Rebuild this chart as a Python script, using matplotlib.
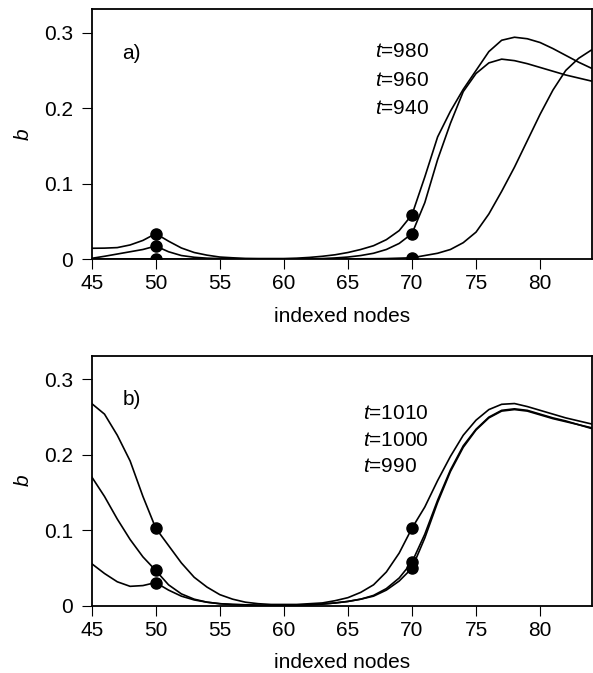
import numpy as np
import matplotlib
matplotlib.use("Agg")
import matplotlib.pyplot as plt

plt.rcParams['font.family'] = ['Liberation Sans', 'DejaVu Sans']
plt.rcParams['mathtext.fontset'] = 'custom'
plt.rcParams['mathtext.it'] = 'Liberation Sans:italic'
plt.rcParams['mathtext.rm'] = 'Liberation Sans'

# indexed nodes 45..84
nodes = np.arange(45, 85)

# panel a)
a_980 = [0.0146, 0.0148, 0.0155, 0.019, 0.025, 0.034, 0.024, 0.015, 0.009, 0.0055,
         0.003, 0.002, 0.0012, 0.001, 0.001, 0.001, 0.0015, 0.0025, 0.004, 0.006,
         0.009, 0.013, 0.018, 0.026, 0.038, 0.059, 0.109, 0.162, 0.196, 0.225,
         0.25, 0.275, 0.29, 0.294, 0.292, 0.287, 0.279, 0.27, 0.261, 0.253]
a_960 = [0.0013, 0.004, 0.007, 0.010, 0.013, 0.0176, 0.010, 0.005, 0.0027, 0.0015,
         0.001, 0.0006, 0.0004, 0.0003, 0.0003, 0.0003, 0.0004, 0.0006, 0.001, 0.0018,
         0.003, 0.005, 0.008, 0.013, 0.021, 0.034, 0.075, 0.132, 0.18, 0.222,
         0.246, 0.26, 0.265, 0.263, 0.259, 0.254, 0.249, 0.244, 0.24, 0.236]
a_940 = [0.0005, 0.0005, 0.0005, 0.0005, 0.0005, 0.0005, 0.0004, 0.0004, 0.0003, 0.0003,
         0.0003, 0.0003, 0.0003, 0.0003, 0.0003, 0.0003, 0.0003, 0.0004, 0.0004, 0.0005,
         0.0006, 0.0007, 0.0008, 0.001, 0.0015, 0.002, 0.005, 0.008, 0.013, 0.022,
         0.036, 0.06, 0.09, 0.122, 0.157, 0.192, 0.224, 0.25, 0.266, 0.277]

# panel b)
b_1010 = [0.268, 0.254, 0.226, 0.192, 0.145, 0.103, 0.08, 0.057, 0.038, 0.025,
          0.015, 0.009, 0.005, 0.003, 0.002, 0.002, 0.002, 0.003, 0.004, 0.007,
          0.011, 0.018, 0.028, 0.045, 0.07, 0.103, 0.131, 0.166, 0.198, 0.226,
          0.246, 0.26, 0.267, 0.268, 0.264, 0.259, 0.254, 0.249, 0.245, 0.241]
b_1000 = [0.171, 0.145, 0.115, 0.088, 0.065, 0.047, 0.028, 0.016, 0.009, 0.005,
          0.003, 0.002, 0.0015, 0.001, 0.001, 0.001, 0.001, 0.0015, 0.0025, 0.004,
          0.006, 0.009, 0.014, 0.023, 0.037, 0.058, 0.095, 0.14, 0.18, 0.212,
          0.234, 0.25, 0.259, 0.261, 0.259, 0.254, 0.249, 0.245, 0.24, 0.236]
b_990 = [0.056, 0.043, 0.032, 0.026, 0.027, 0.031, 0.021, 0.013, 0.008, 0.005,
         0.003, 0.002, 0.0015, 0.001, 0.001, 0.001, 0.001, 0.0015, 0.0025, 0.004,
         0.006, 0.009, 0.013, 0.021, 0.033, 0.050, 0.09, 0.137, 0.178, 0.21,
         0.233, 0.249, 0.258, 0.26, 0.258, 0.253, 0.248, 0.244, 0.24, 0.235]

marked_nodes = [50, 70]
x_ticks = [45, 50, 55, 60, 65, 70, 75, 80]
y_ticks = [0, 0.1, 0.2, 0.3]
y_tick_labels = ["0", "0.1", "0.2", "0.3"]

panels = [
    ("a)", [a_980, a_960, a_940], ["980", "960", "940"]),
    ("b)", [b_1010, b_1000, b_990], ["1010", "1000", "990"]),
]

fs = 15

fig = plt.figure(figsize=(5.93, 6.73), dpi=100)
axes = [fig.add_axes([0.1546, 0.6147, 0.8437, 0.3715]),
        fig.add_axes([0.1546, 0.0996, 0.8437, 0.3715])]

mask = np.isin(nodes, marked_nodes)

for ax, (tag, series, times) in zip(axes, panels):
    for s in series:
        s = np.array(s)
        ax.plot(nodes, s, color='black', lw=1.2, zorder=2)
        ax.plot(nodes[mask], s[mask], 'o', color='black', ms=8, zorder=3)

    ax.set_xlim(45, 84.05)
    ax.set_ylim(0, 0.331)
    ax.set_xticks(x_ticks)
    ax.set_yticks(y_ticks)
    ax.set_yticklabels(y_tick_labels)
    ax.tick_params(direction='out', length=7.5, width=0.8, labelsize=fs,
                   color='black')
    ax.tick_params(axis='x', pad=3)
    ax.tick_params(axis='y', pad=6)
    for sp in ax.spines.values():
        sp.set_linewidth(1.3)

    ax.set_xlabel("indexed nodes", fontsize=fs)
    ax.xaxis.set_label_coords(0.5, -0.19)
    ax.set_ylabel("$b$", fontsize=fs)
    ax.yaxis.set_label_coords(-0.117, 0.5)

    ax.text(0.0614, 0.825, tag, transform=ax.transAxes, fontsize=fs,
            va='center', ha='left')

ys_a = [0.2746, 0.237, 0.200]
for y, t in zip(ys_a, panels[0][2]):
    axes[0].text(67.1, y, "$t$=" + t, fontsize=fs, va='center', ha='left')
ys_b = [0.2546, 0.219, 0.185]
for y, t in zip(ys_b, panels[1][2]):
    axes[1].text(66.2, y, "$t$=" + t, fontsize=fs, va='center', ha='left')

fig.savefig("out.png", dpi=100)
